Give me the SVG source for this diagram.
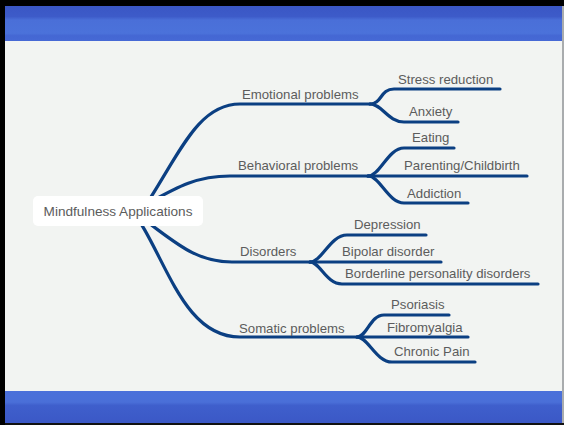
<svg xmlns="http://www.w3.org/2000/svg" width="564" height="425" viewBox="0 0 564 425">
  <defs>
    <linearGradient id="bandTop" x1="0" y1="0" x2="0" y2="1">
      <stop offset="0" stop-color="#3a56c4"/>
      <stop offset="0.3" stop-color="#3d5bc9"/>
      <stop offset="0.4" stop-color="#4a6fd8"/>
      <stop offset="0.78" stop-color="#4b72da"/>
      <stop offset="0.85" stop-color="#4467d3"/>
      <stop offset="1" stop-color="#4669d5"/>
    </linearGradient>
    <linearGradient id="bandBottom" x1="0" y1="0" x2="0" y2="1">
      <stop offset="0" stop-color="#4a70da"/>
      <stop offset="0.35" stop-color="#4a6fd8"/>
      <stop offset="0.45" stop-color="#3f5fcc"/>
      <stop offset="1" stop-color="#3b58c6"/>
    </linearGradient>
    <style>
      .lbl { font-family: "Liberation Sans", Arial, sans-serif; font-size: 13.2px; fill: #5c5c5c; }
      .root { font-size: 13.6px; }
      .link { fill: none; stroke: #0b3f82; stroke-width: 3.2; stroke-linecap: round; stroke-linejoin: round; }
    </style>
  </defs>

  <!-- frame and background -->
  <rect x="0" y="0" width="564" height="425" fill="#000"/>
  <rect x="5" y="6" width="559" height="419" fill="#f2f4f2"/>
  <rect x="5" y="6" width="559" height="35" fill="url(#bandTop)"/>
  <rect x="5" y="391" width="559" height="32" fill="url(#bandBottom)"/>
  <rect x="5" y="423" width="559" height="2" fill="#111"/>
  <rect x="562" y="6" width="2" height="417" fill="#a9acae"/>

  <!-- connectors -->
  <g id="connectors">
    <!-- main branches -->
    <path class="link" d="M140 214 C178 158 196 104 240 104 L370 104"/>
    <path class="link" d="M130 213 C170 192 190 176 230 176 L368 176"/>
    <path class="link" d="M130 210 C170 236 190 262 232 262 L310 262"/>
    <path class="link" d="M128 205 C165 250 180 337 240 337 L357 337"/>
    <!-- Emotional problems -->
    <path class="link" d="M370 104 C382 104 380 89 394 89 L500 89"/>
    <path class="link" d="M370 104 C382 104 388 122 404 122 L458 122"/>
    <!-- Behavioral problems -->
    <path class="link" d="M368 176 C380 176 388 148 404 148 L454 148"/>
    <path class="link" d="M368 176 L527 176"/>
    <path class="link" d="M368 176 C380 176 388 203 404 203 L468 203"/>
    <!-- Disorders -->
    <path class="link" d="M310 262 C322 262 330 235 347 235 L426 235"/>
    <path class="link" d="M310 262 L441 262"/>
    <path class="link" d="M310 262 C320 262 326 284 342 284 L538 284"/>
    <!-- Somatic problems -->
    <path class="link" d="M357 337 C367 337 370 315 384 315 L449 315"/>
    <path class="link" d="M357 337 L468 337"/>
    <path class="link" d="M357 337 C368 337 376 362 392 362 L475 362"/>
  </g>

  <!-- central node -->
  <g id="root">
    <rect x="33" y="196" width="170" height="30" rx="5" fill="#fff"/>
    <text class="lbl root" x="118" y="215.7" text-anchor="middle">Mindfulness Applications</text>
  </g>

  <!-- branch labels -->
  <g id="emotional"><text class="lbl" x="242" y="99">Emotional problems</text></g>
  <g id="behavioral"><text class="lbl" x="238" y="170">Behavioral problems</text></g>
  <g id="disorders"><text class="lbl" x="240" y="256">Disorders</text></g>
  <g id="somatic"><text class="lbl" x="239" y="333">Somatic problems</text></g>

  <g id="stress"><text class="lbl" x="398" y="84">Stress reduction</text></g>
  <g id="anxiety"><text class="lbl" x="409" y="115.5">Anxiety</text></g>
  <g id="eating"><text class="lbl" x="412" y="142">Eating</text></g>
  <g id="parenting"><text class="lbl" x="404" y="170">Parenting/Childbirth</text></g>
  <g id="addiction"><text class="lbl" x="407" y="198">Addiction</text></g>
  <g id="depression"><text class="lbl" x="354" y="229">Depression</text></g>
  <g id="bipolar"><text class="lbl" x="342" y="256">Bipolar disorder</text></g>
  <g id="borderline"><text class="lbl" x="345" y="278">Borderline personality disorders</text></g>
  <g id="psoriasis"><text class="lbl" x="391" y="309">Psoriasis</text></g>
  <g id="fibromyalgia"><text class="lbl" x="387" y="332">Fibromyalgia</text></g>
  <g id="chronic"><text class="lbl" x="394" y="356">Chronic Pain</text></g>
</svg>
